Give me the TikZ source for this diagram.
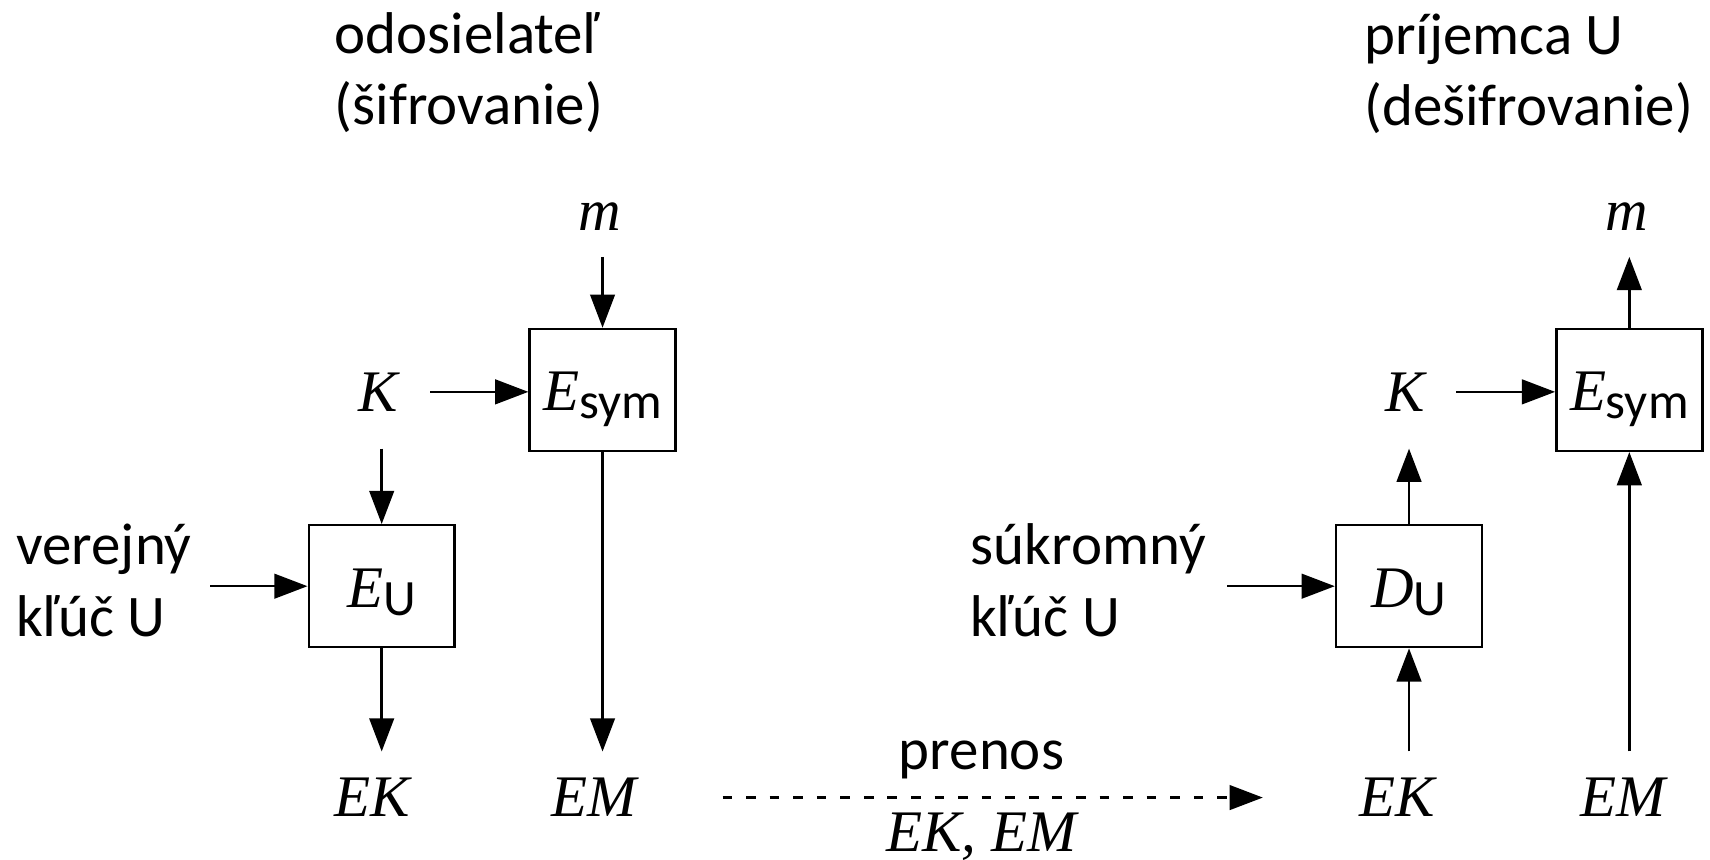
\documentclass[tikz,border=0pt]{standalone}
\usepackage{fontspec}
\setmainfont{Carlito}
\newfontfamily\serfont{Liberation Serif}
\usetikzlibrary{arrows.meta}
\newcommand\mv[1]{{\serfont\itshape #1}}
\newcommand\sbs[1]{\raisebox{-1.5pt}{\fontsize{9.5}{10}\selectfont #1}}
\tikzset{
  arr/.style={-{Triangle[length=6.2pt,width=4.6pt]}, line width=0.45pt},
  dsh/.style={-{Triangle[length=6.2pt,width=4.6pt]}, line width=0.45pt, dash pattern=on 1.8pt off 2.6pt},
  blk/.style={draw, line width=0.45pt, inner sep=0pt, minimum width=0.958cm, minimum height=0.80cm, text height=7.8pt, text depth=0pt},
  sym/.style={inner sep=0pt, outer sep=5pt, anchor=base},
  kk/.style={inner sep=0pt, outer xsep=6pt, outer ysep=7pt, anchor=base},
  lbl/.style={inner sep=0pt, outer sep=0pt, anchor=base west},
}
\begin{document}
\begin{tikzpicture}[x=0.00715cm, y=-0.00715cm, font=\fontsize{11}{13.3}\selectfont]
\useasboundingbox (0,0) rectangle (1568,788);
% titles
\node[lbl] (tS) at (307,49) {\begin{tabular}[t]{@{}l@{}}odosielateľ\\(šifrovanie)\end{tabular}};
\node[lbl] (tR) at (1251,50) {\begin{tabular}[t]{@{}l@{}}príjemca U\\(dešifrovanie)\end{tabular}};
% sender
\node[sym] (mL) at (550,211) {\mv{m}};
\node[blk] (eS) at (552.5,357.5) {\mv{E}\sbs{sym}};
\node[kk] (KL) at (347,377) {\mv{K}};
\node[blk] (eU) at (350,537.5) {\mv{E}\sbs{U}};
\node[lbl] (ver) at (15,518) {\begin{tabular}[t]{@{}l@{}}verejný\\kľúč U\end{tabular}};
\node[sym] (EKL) at (341,749) {\mv{EK}};
\node[sym] (EML) at (545,749) {\mv{EM}};
\draw[arr] (mL.south -| eS.north) -- (eS.north);
\draw[arr] (KL.east) -- (KL.east -| eS.west);
\draw[arr] (KL.south -| eU.north) -- (eU.north);
\draw[arr, shorten <=3.5pt] (ver.east |- eU.west) -- (eU.west);
\draw[arr] (eU.south) -- (eU.south |- EKL.north);
\draw[arr] (eS.south) -- (eS.south |- EML.north);
% transfer
\node[sym] (pren) at (900,706) {prenos};
\node[sym] (ekem) at (900,781) {\mv{EK, EM}};
% receiver
\node[sym] (mR) at (1492,211) {\mv{m}};
\node[blk] (eR) at (1494,357.5) {\mv{E}\sbs{sym}};
\node[kk] (KR) at (1288,377) {\mv{K}};
\node[blk] (dU) at (1292,537.5) {\mv{D}\sbs{U}};
\node[lbl] (suk) at (890,518) {\begin{tabular}[t]{@{}l@{}}súkromný\\kľúč U\end{tabular}};
\node[sym] (EKR) at (1281,749) {\mv{EK}};
\node[sym] (EMR) at (1488,749) {\mv{EM}};
\draw[arr] (eR.north) -- (eR.north |- mR.south);
\draw[arr] (KR.east) -- (KR.east -| eR.west);
\draw[arr] (dU.north) -- (dU.north |- KR.south);
\draw[arr, shorten <=4pt] (suk.east |- dU.west) -- (dU.west);
\draw[arr] (EKR.north -| dU.south) -- (dU.south);
\draw[arr] (EMR.north -| eR.south) -- (eR.south);
\draw[dsh, shorten <=0.386cm, shorten >=0.458cm] (EML.east) -- (EKR.west);
\end{tikzpicture}
\end{document}
